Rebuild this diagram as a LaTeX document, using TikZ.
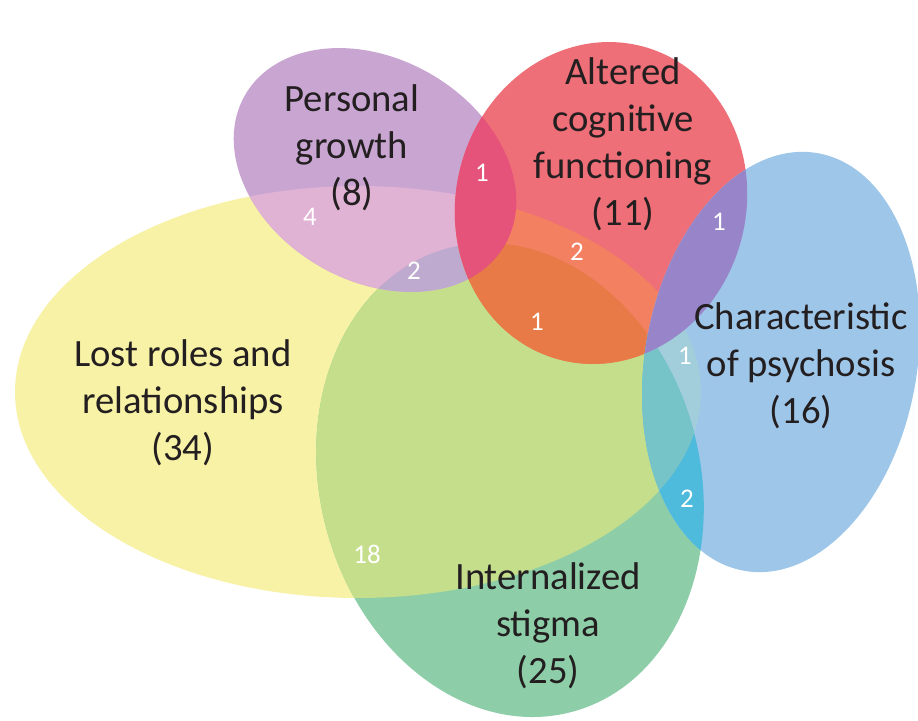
\documentclass[tikz,border=0pt]{standalone}
\usepackage{fontspec}
\setmainfont{Carlito}

\definecolor{txtc}{RGB}{35,30,32}
\definecolor{lostc}{RGB}{247,242,166}
\definecolor{stigmac}{RGB}{141,206,168}
\definecolor{growthc}{RGB}{201,166,210}
\definecolor{alteredc}{RGB}{238,111,119}
\definecolor{psychc}{RGB}{158,198,233}
\definecolor{lostxstigma}{RGB}{196,222,140}
\definecolor{growthxlost}{RGB}{224,178,212}
\definecolor{growthxstigma}{RGB}{190,170,206}
\definecolor{alteredxlost}{RGB}{244,128,98}
\definecolor{alteredxstigma}{RGB}{231,122,70}
\definecolor{alteredxgrowth}{RGB}{229,82,122}
\definecolor{psychxlost}{RGB}{162,205,218}
\definecolor{psychxstigma}{RGB}{78,186,220}
\definecolor{psychxboth}{RGB}{118,196,200}
\definecolor{psychxaltered}{RGB}{152,132,200}

\newcommand\lostshape{(358,328) ellipse [x radius=343, y radius=206]}
\newcommand\stigmashape{(510,240) ellipse [x radius=190, y radius=240, rotate=15]}
\newcommand\growthshape{(375,550) ellipse [x radius=150, y radius=111, rotate=-30]}
\newcommand\alteredshape{(601,517) ellipse [x radius=145, y radius=162, rotate=-15]}
\newcommand\psychshape{(781,358) ellipse [x radius=136, y radius=212, rotate=-10]}

\begin{document}
\begin{tikzpicture}[x=0.03cm,y=0.03cm,
  lbl/.style={align=center,text=txtc,font=\fontsize{33}{40}\selectfont},
  num/.style={text=white,font=\fontsize{23}{23}\selectfont}]
\useasboundingbox (0,0) rectangle (918,720);
\fill[white] (0,0) rectangle (918,720);
% sets
\fill[lostc] \lostshape;
\fill[stigmac] \stigmashape;
\fill[growthc] \growthshape;
\fill[alteredc] \alteredshape;
\fill[psychc] \psychshape;
% overlaps
\begin{scope} \clip \lostshape; \fill[lostxstigma] \stigmashape; \end{scope}
\begin{scope} \clip \growthshape; \fill[growthxlost] \lostshape; \end{scope}
\begin{scope} \clip \growthshape; \fill[growthxstigma] \stigmashape; \end{scope}
\begin{scope} \clip \alteredshape; \fill[alteredxlost] \lostshape; \end{scope}
\begin{scope} \clip \alteredshape; \fill[alteredxstigma] \stigmashape; \end{scope}
\begin{scope} \clip \alteredshape; \fill[alteredxgrowth] \growthshape; \end{scope}
\begin{scope} \clip \psychshape; \fill[psychxlost] \lostshape; \end{scope}
\begin{scope} \clip \psychshape; \fill[psychxstigma] \stigmashape; \end{scope}
\begin{scope} \clip \psychshape; \clip \lostshape; \fill[psychxboth] \stigmashape; \end{scope}
\begin{scope} \clip \psychshape; \fill[psychxaltered] \alteredshape; \end{scope}
% set labels
\node[lbl] (growth) at (352,572) {Personal\\growth\\(8)};
\node[lbl] (altered) at (623,576) {Altered\\cognitive\\functioning\\(11)};
\node[lbl] (psych) at (801,354) {Characteristic\\of psychosis\\(16)};
\node[lbl] (lost) at (183,317) {Lost roles and\\relationships\\(34)};
\node[lbl] (stigma) at (548,94) {Internalized\\stigma\\(25)};
% counts
\node[num] (n4) at (310,503) {4};
\node[num] (n2a) at (414,449) {2};
\node[num] (n1a) at (482,547) {1};
\node[num] (n2b) at (577,468) {2};
\node[num] (n1b) at (537,398) {1};
\node[num] (n1c) at (719,498) {1};
\node[num] (n1d) at (685,364) {1};
\node[num] (n2c) at (687,221) {2};
\node[num] (n18) at (367,166) {18};
\end{tikzpicture}
\end{document}
